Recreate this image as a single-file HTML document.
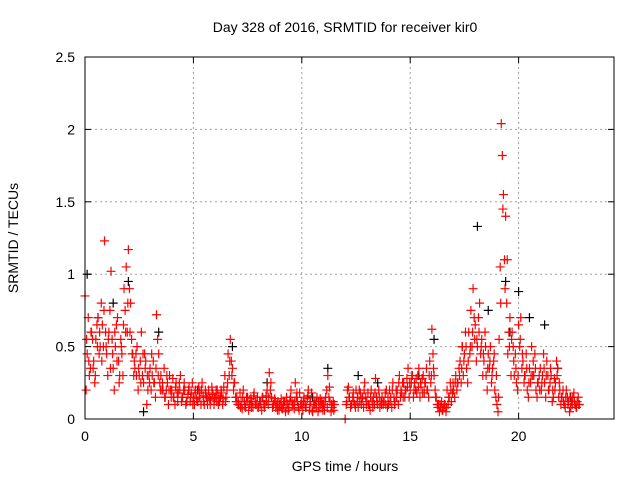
<!DOCTYPE html>
<html><head><meta charset="utf-8"><style>
body{margin:0;background:#fff}
text{font-family:"Liberation Sans",sans-serif;font-size:14px;fill:#000}
</style></head><body>
<svg id="chart" width="640" height="480" viewBox="0 0 640 480" xmlns="http://www.w3.org/2000/svg">
<rect width="640" height="480" fill="#fff"/>
<g id="grid"></g><g id="black"></g><g id="red"></g><g id="axes"></g>
<text x="345" y="32" text-anchor="middle">Day 328 of 2016, SRMTID for receiver kir0</text>
<text x="345" y="471" text-anchor="middle">GPS time / hours</text>
<text x="18" y="238" text-anchor="middle" transform="rotate(-90 18 238)">SRMTID / TECUs</text>
</svg>
<script>
const xTicks=[0,5,10,15,20];
const yTicks=[0,0.5,1,1.5,2,2.5];
const yTickLabels=["0","0.5","1","1.5","2","2.5"];
const redA=[0.85,0.45,0.3,0.6,0.4,0.55,0.7,0.5,0.65,1.23,
0.45,0.6,1.02,0.35,0.5,0.7,0.3,0.45,0.9,1.05,
1.17,0.8,0.45,0.35,0.5,0.3,0.6,0.25,0.4,0.2,
0.35,0.3,0.25,0.72,0.45,0.3,0.2,0.15,0.25,0.3,
0.2,0.15,0.25,0.18,0.3,0.15,0.2,0.12,0.22,0.18,
0.15,0.2,0.12,0.18,0.25,0.1,0.15,0.2,0.13,0.17,
0.15,0.2,0.12,0.18,0.22,0.15,0.45,0.55,0.35,0.25,
0.15,0.1,0.12,0.2,0.08,0.15,0.1,0.12,0.18,0.1,
0.08,0.12,0.15,0.1,0.2,0.32,0.15,0.1,0.08,0.12,
0.1,0.07,0.12,0.15,0.08,0.2,0.1,0.25,0.12,0.18,
0.1,0.15,0.08,0.2,0.12,0.05,0.1,0.15,0.08,0.12,
0.1,0.15,0.3,0.12,0.08,0.1,null,null,null,null,
0.0,0.2,0.15,0.1,0.12,0.2,0.08,0.18,0.15,0.25,
0.12,0.1,0.2,0.15,0.28,0.1,0.08,0.15,0.12,0.2,
0.1,0.15,0.25,0.12,0.2,0.3,0.18,0.25,0.2,0.35,
0.2,0.3,0.25,0.18,0.35,0.22,0.3,0.25,0.2,0.4,
0.62,0.3,0.15,0.1,0.08,0.06,0.1,0.2,0.15,0.12,
0.2,0.3,0.25,0.4,0.5,0.45,0.35,0.6,0.75,0.9,
0.65,0.5,0.8,0.55,0.4,0.3,0.45,0.5,0.35,0.2,
0.1,0.55,2.04,1.55,1.4,0.45,0.7,0.6,0.3,0.25,
0.65,0.7,0.4,0.3,0.2,0.35,0.5,0.3,0.2,0.25,
0.35,0.3,0.25,0.4,0.2,0.3,0.15,0.25,0.35,0.2,
0.15,0.1,0.2,0.12,0.08,0.15,0.1,0.12,0.1];
const redB=[0.2,0.7,0.35,0.55,0.25,0.65,0.45,0.8,0.5,0.6,
0.3,0.75,0.55,0.2,0.65,0.4,0.55,0.3,0.75,0.6,
0.9,0.55,0.3,0.45,0.2,0.4,0.3,0.45,0.1,0.3,
0.2,0.4,0.15,0.55,0.25,0.2,0.35,0.2,0.1,0.2,
0.28,0.1,0.18,0.25,0.12,0.2,0.1,0.17,0.12,0.25,
0.1,0.14,0.22,0.1,0.16,0.2,0.1,0.14,0.22,0.1,
0.2,0.1,0.15,0.1,0.3,0.2,0.3,0.4,0.2,0.15,
0.1,0.18,0.07,0.12,0.15,0.06,0.14,0.08,0.1,0.15,
0.12,0.06,0.1,0.16,0.1,0.2,0.08,0.14,0.1,0.06,
0.14,0.1,0.05,0.1,0.13,0.12,0.07,0.15,0.08,0.1,
0.06,0.1,0.14,0.06,0.18,0.1,0.12,0.05,0.14,0.1,
0.06,0.2,0.15,0.05,0.12,null,null,null,null,null,
0.1,0.22,0.08,0.15,0.1,0.12,0.2,0.1,0.08,0.15,
0.18,0.06,0.12,0.1,0.15,0.2,0.12,0.1,0.18,0.08,
0.2,0.08,0.15,0.2,0.1,0.15,0.25,0.15,0.28,0.15,
0.25,0.15,0.2,0.3,0.15,0.28,0.18,0.35,0.15,0.25,
0.45,0.2,0.1,0.05,0.12,0.08,0.05,0.1,0.25,0.18,
0.15,0.2,0.35,0.25,0.3,0.6,0.25,0.45,0.5,0.7,
0.4,0.7,0.45,0.3,0.6,0.2,0.35,0.25,0.4,0.15,
0.05,1.05,1.82,1.1,0.8,0.6,0.3,0.5,0.45,0.2,
0.5,0.35,0.25,0.45,0.15,0.25,0.3,0.45,0.15,0.3,
0.2,0.45,0.15,0.3,0.25,0.12,0.28,0.4,0.15,0.1,
0.2,0.08,0.15,0.05,0.12,0.18,0.08,0.15];
const redC=[0.55,0.4,0.6,0.35,0.3,0.5,0.6,0.4,0.75,0.5,
0.55,0.35,0.45,0.6,0.4,0.25,0.5,0.65,0.6,0.8,
0.6,0.45,0.4,0.3,0.35,0.25,0.45,0.35,0.3,0.25,
0.45,0.25,0.35,0.3,0.2,0.25,0.15,0.3,0.2,0.15,
0.15,0.22,0.12,0.2,0.15,0.25,0.12,0.2,0.15,0.1,
0.18,0.12,0.15,0.2,0.12,0.18,0.15,0.1,0.18,0.14,
0.12,0.16,0.2,0.14,0.12,0.25,0.4,0.3,0.25,0.12,
0.12,0.08,0.15,0.1,0.12,0.1,0.08,0.16,0.12,0.08,
0.1,0.15,0.08,0.12,0.15,0.25,0.1,0.12,0.06,0.1,
0.08,0.12,0.1,0.06,0.15,0.1,0.12,0.18,0.06,0.12,
0.12,0.08,0.16,0.1,0.06,0.12,0.08,0.12,0.1,0.06,
0.12,0.08,0.22,0.1,0.06,null,null,null,null,null,
0.12,0.15,0.1,0.18,0.08,0.15,0.12,0.14,0.2,0.1,
0.1,0.15,0.08,0.18,0.12,0.15,0.1,0.12,0.1,0.15,
0.12,0.2,0.1,0.15,0.25,0.2,0.15,0.2,0.22,0.25,
0.3,0.2,0.28,0.22,0.25,0.18,0.25,0.2,0.3,0.3,
0.35,0.15,0.08,0.1,0.06,0.1,0.08,0.15,0.2,0.25,
0.25,0.25,0.3,0.35,0.4,0.5,0.4,0.5,0.6,0.55,
0.55,0.6,0.5,0.45,0.5,0.35,0.4,0.3,0.45,0.3,
0.15,0.8,1.45,0.9,1.1,0.5,0.55,0.4,0.35,0.3,
0.55,0.45,0.3,0.35,0.25,0.3,0.4,0.35,0.25,0.2,
0.25,0.35,0.3,0.2,0.35,0.2,0.2,0.3,0.25,0.15,
0.12,0.15,0.1,0.15,0.1,0.12,0.08,0.1];
const blackT=[0.1,0.6,1.3,2.0,2.7,3.4,5.2,6.8,8.4,10.5,11.2,12.6,13.5,15.4,16.1,17.4,18.1,18.6,19.4,19.6,20.0,20.5,21.2,21.8,22.4];
const blackV=[1.0,0.7,0.8,0.95,0.05,0.6,0.2,0.5,0.25,0.15,0.35,0.3,0.25,0.3,0.55,0.5,1.33,0.75,0.95,0.6,0.88,0.7,0.65,0.35,0.15];
const X0=85,X1=614,Y0=419,Y1=57,XMAX=24.4,YMAX=2.5;
const sx=v=>X0+(X1-X0)*v/XMAX;
const sy=v=>Y0-(Y0-Y1)*v/YMAX;
const NS="http://www.w3.org/2000/svg";
function mk(tag,attrs,parent){const e=document.createElementNS(NS,tag);for(const k in attrs)e.setAttribute(k,attrs[k]);parent.appendChild(e);return e;}
const grid=document.getElementById('grid'),axes=document.getElementById('axes');
xTicks.forEach(t=>{
  if(t>0){const g=mk('line',{x1:sx(t),x2:sx(t),y1:Y0,y2:Y1,stroke:'#a0a0a0','stroke-dasharray':'2,3'},grid);
  
  }
  mk('line',{x1:sx(t),x2:sx(t),y1:Y0,y2:Y0-6,stroke:'#000'},axes);
  mk('line',{x1:sx(t),x2:sx(t),y1:Y1,y2:Y1+6,stroke:'#000'},axes);
  const l=mk('text',{x:sx(t),y:Y0+22,'text-anchor':'middle'},axes);l.textContent=t;
  
  
});
yTicks.forEach((t,i)=>{
  if(t>0&&t<YMAX){const g=mk('line',{x1:X0,x2:X1,y1:sy(t),y2:sy(t),stroke:'#a0a0a0','stroke-dasharray':'2,3'},grid);
  
  }
  mk('line',{x1:X0,x2:X0+6,y1:sy(t),y2:sy(t),stroke:'#000'},axes);
  mk('line',{x1:X1,x2:X1-6,y1:sy(t),y2:sy(t),stroke:'#000'},axes);
  const l=mk('text',{x:X0-10,y:sy(t)+5,'text-anchor':'end'},axes);l.textContent=yTickLabels[i];
  
  
});
const fr=mk('rect',{x:X0,y:Y1,width:X1-X0,height:Y0-Y1,fill:'none',stroke:'#000'},axes);


function plus(parent,t,v,col){
  const x=sx(t),y=sy(v);
  return mk('path',{d:`M${x-4.5} ${y}H${x+4.5}M${x} ${y-4.5}V${y+4.5}`,stroke:col,'stroke-width':1.2,fill:'none'},parent);
}
const bg=document.getElementById('black');
blackT.forEach((t,i)=>{const p=plus(bg,t,blackV[i],'#000');
  
  });
const rg=document.getElementById('red');
[[redA,0],[redB,0.05],[redC,0.075]].forEach(([arr,off])=>{
  arr.forEach((v,i)=>{if(v===null)return;const p=plus(rg,i*0.1+off,v,'#ff0000');
    
    });
});
</script>
</body></html>
